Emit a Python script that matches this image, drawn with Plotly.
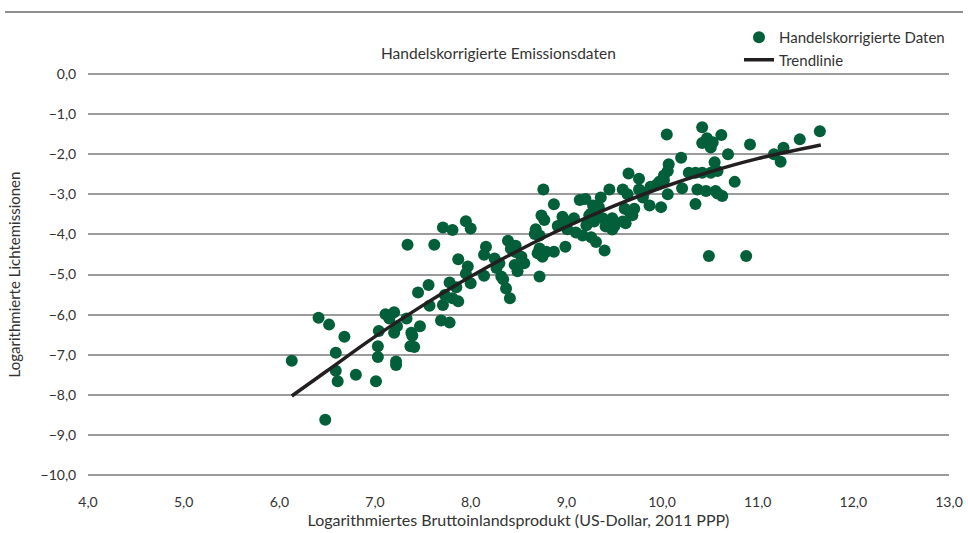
import plotly.graph_objects as go

# Handelskorrigierte Daten (log GDP, log light emissions)
bip = [
    6.13, 6.41, 6.52, 6.68, 6.59, 6.59, 6.61, 6.80, 6.48, 7.01, 7.03, 7.03, 7.04, 7.22, 7.22, 7.11,
    7.20, 7.15, 7.20, 7.23, 7.33, 7.38, 7.39, 7.37, 7.41, 7.47,
    7.34, 7.62, 7.71, 7.81, 7.95, 8.00, 7.87, 7.97, 7.95, 8.00, 8.16, 8.14, 8.14, 7.56, 7.45, 7.78,
    7.73, 7.81, 7.87, 7.71, 7.57, 7.69, 7.78, 7.85,
    8.76, 8.87, 9.14, 8.74, 8.77, 8.96, 9.01, 9.08, 9.26, 9.29, 9.21, 8.91, 9.01, 8.68, 8.72, 8.67,
    9.10, 9.17, 9.26, 9.31, 8.39, 8.47, 8.42, 8.25, 8.30, 8.27, 8.47, 8.53, 8.56, 8.46, 8.49, 8.72,
    8.70, 8.79, 8.87, 8.75, 8.99, 8.72, 8.32, 8.34, 8.37, 8.41,
    10.05, 10.42, 10.47, 10.42, 10.51, 10.20, 10.07, 10.06, 10.02, 10.55, 10.28, 10.35, 10.42, 10.51,
    10.58, 9.65, 9.76, 9.97, 10.02, 9.94, 9.88, 10.21, 10.06, 10.37, 10.46, 10.56, 10.35, 9.59, 9.64,
    9.76, 9.81, 9.80, 9.87, 9.99, 9.45, 9.36, 9.28, 9.20, 9.61, 9.66, 9.71, 9.69, 9.48, 9.59, 9.50,
    9.62, 9.34, 9.31, 9.24, 9.38, 9.41, 9.48, 9.40, 10.49,
    10.62, 10.53, 10.92, 10.69, 11.65, 11.44, 11.27, 11.17, 11.24, 10.76, 10.63, 10.58, 10.88,
]
licht = [
    -7.15, -6.08, -6.25, -6.55, -6.95, -7.40, -7.66, -7.50, -8.62, -7.66, -6.79, -7.06, -6.41, -7.17, -7.26, -5.99,
    -5.94, -6.10, -6.45, -6.29, -6.10, -6.45, -6.53, -6.79, -6.81, -6.29,
    -4.26, -4.26, -3.83, -3.89, -3.67, -3.85, -4.62, -4.80, -4.98, -5.22, -4.31, -4.51, -5.03, -5.26, -5.45, -5.20,
    -5.51, -5.59, -5.67, -5.76, -5.78, -6.15, -6.20, -5.32,
    -2.88, -3.25, -3.14, -3.53, -3.64, -3.56, -3.68, -3.60, -3.48, -3.68, -3.77, -3.79, -3.87, -3.87, -4.03, -3.99,
    -3.95, -4.03, -4.07, -4.19, -4.16, -4.28, -4.36, -4.60, -4.72, -4.84, -4.44, -4.56, -4.72, -4.76, -4.92, -4.35,
    -4.47, -4.43, -4.43, -4.56, -4.31, -5.05, -5.05, -5.12, -5.35, -5.59,
    -1.51, -1.33, -1.60, -1.72, -1.83, -2.09, -2.25, -2.42, -2.53, -2.20, -2.46, -2.46, -2.46, -2.46,
    -2.42, -2.48, -2.61, -2.69, -2.65, -2.77, -2.81, -2.85, -3.00, -2.88, -2.92, -2.92, -3.24, -2.88, -3.00,
    -2.88, -2.96, -3.08, -3.28, -3.32, -2.88, -3.08, -3.28, -3.12, -3.36, -3.44, -3.36, -3.52, -3.60, -3.68, -3.80,
    -3.72, -3.32, -3.44, -3.52, -3.60, -3.80, -3.88, -4.40, -4.54,
    -1.52, -1.70, -1.76, -2.00, -1.43, -1.63, -1.84, -2.00, -2.19, -2.69, -3.04, -2.98, -4.54,
]

# Trendlinie
trend_x = [6.13, 6.5, 7.0, 7.5, 8.0, 8.5, 9.0, 9.5, 10.0, 10.5, 11.0, 11.66]
trend_y = [-8.03, -7.40, -6.55, -5.77, -5.05, -4.40, -3.81, -3.29, -2.83, -2.44, -2.11, -1.77]

x_ticks = [4, 5, 6, 7, 8, 9, 10, 11, 12, 13]
y_ticks = [0, -1, -2, -3, -4, -5, -6, -7, -8, -9, -10]

def de(v):
    return f"{v:.1f}".replace(".", ",").replace("-", "\u2212")

FONT = "Lato"
GREEN = "#035f3a"
GRID = "#9b9b9b"
TXT = "#333333"

# plot area in pixels
L, R, T, B = 88, 949, 72, 477
PW, PH = R - L, B - T

fig = go.Figure()
fig.add_trace(go.Scatter(
    x=bip, y=licht, mode="markers", name="Handelskorrigierte Daten",
    marker=dict(color=GREEN, size=12, line=dict(width=0)),
))
fig.add_trace(go.Scatter(
    x=trend_x, y=trend_y, mode="lines", name="Trendlinie",
    line=dict(color="#231f20", width=3.5, shape="spline"),
))

fig.update_layout(
    width=968, height=533,
    margin=dict(l=L, r=968 - R, t=T, b=533 - B, autoexpand=False),
    paper_bgcolor="white", plot_bgcolor="white",
    font=dict(family=FONT, size=13, color=TXT),
    showlegend=True,
    legend=dict(
        xref="container", yref="container",
        x=739 / 968, y=1 - 21 / 533,
        xanchor="left", yanchor="top",
        font=dict(family=FONT, size=15, color=TXT),
        bgcolor="rgba(0,0,0,0)", tracegroupgap=0, itemwidth=30,
    ),
    xaxis=dict(
        range=[4, 13], tickvals=x_ticks, ticktext=[de(v) for v in x_ticks],
        showgrid=False, zeroline=False, showline=False, automargin=False,
        ticks="outside", ticklen=12, tickcolor="rgba(0,0,0,0)",
        tickfont=dict(family=FONT, size=14, color=TXT),
        title=dict(text="Logarithmiertes Bruttoinlandsprodukt (US-Dollar, 2011 PPP)",
                   font=dict(family=FONT, size=16, color=TXT), standoff=4),
    ),
    yaxis=dict(
        range=[-10.05, 0.05], tickvals=y_ticks, ticktext=[de(v) for v in y_ticks],
        showgrid=True, gridcolor=GRID, gridwidth=2, zeroline=False, showline=False,
        automargin=False,
        ticks="outside", ticklen=8, tickcolor="rgba(0,0,0,0)",
        tickfont=dict(family=FONT, size=14, color=TXT),
        title=dict(text="Logarithmierte Lichtemissionen",
                   font=dict(family=FONT, size=15, color=TXT), standoff=16),
    ),
)

fig.add_annotation(
    text="Handelskorrigierte Emissionsdaten", xref="paper", yref="paper",
    x=(498 - L) / PW, y=(B - 53) / PH, showarrow=False,
    xanchor="center", yanchor="middle",
    font=dict(family=FONT, size=15.5, color=TXT),
)
fig.add_shape(type="line", xref="paper", yref="paper",
              x0=(5 - L) / PW, x1=(963 - L) / PW,
              y0=(B - 12) / PH, y1=(B - 12) / PH,
              line=dict(color="#8f8f8f", width=2))

fig.write_html("out.html", config={"displayModeBar": False},
               post_script="document.body.style.margin='0px';")
